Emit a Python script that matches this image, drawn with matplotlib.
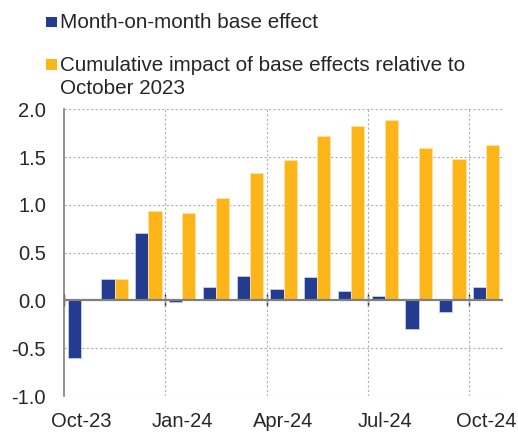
import matplotlib
matplotlib.use("Agg")
import matplotlib.pyplot as plt
from matplotlib.patches import Rectangle
import numpy as np

months = ["Oct-23", "Nov-23", "Dec-23", "Jan-24", "Feb-24", "Mar-24", "Apr-24",
          "May-24", "Jun-24", "Jul-24", "Aug-24", "Sep-24", "Oct-24"]
mom = [-0.60, 0.22, 0.71, -0.02, 0.14, 0.26, 0.12, 0.25, 0.10, 0.05, -0.30, -0.125, 0.14]
cumulative = [None, 0.22, 0.935, 0.92, 1.07, 1.33, 1.465, 1.72, 1.83, 1.885, 1.59, 1.475, 1.625]
label_months = ["Oct-23", "Jan-24", "Apr-24", "Jul-24", "Oct-24"]
yticks = [-1.0, -0.5, 0.0, 0.5, 1.0, 1.5, 2.0]
series_labels = ["Month-on-month base effect",
                 "Cumulative impact of base effects relative to\nOctober 2023"]

BLUE = "#233C8F"
ORANGE = "#FDB51A"
TXT = "#262626"
FS = 14.5
LFS = 14.9

plt.rcParams['font.family'] = ['Liberation Sans', 'DejaVu Sans']

W, H = 518, 432
fig = plt.figure(figsize=(W/100, H/100), dpi=100)
ax = fig.add_axes([64/W, 1-396/H, (503-64)/W, (396-109.3)/H])

x = np.arange(len(months))
w = 0.39
cum_vals = [np.nan if v is None else v for v in cumulative]
b1 = ax.bar(x - w/2, mom, width=w, color=BLUE, edgecolor="#c8cde3", linewidth=0.6, zorder=3)
b2 = ax.bar(x + w/2, cum_vals, width=w, color=ORANGE, edgecolor="#fde3a6", linewidth=0.6, zorder=3)

ax.set_xlim(-0.5, len(months) - 0.5)
ax.set_ylim(-1.0, 2.0)
ax.set_yticks(yticks)
ax.set_yticklabels([f"{t:.1f}" for t in yticks], fontsize=FS, color=TXT)

lab_pos = [months.index(m) for m in label_months]
ax.set_xticks(lab_pos)
ax.set_xticklabels(label_months, fontsize=FS, color=TXT)
ax.tick_params(axis='x', length=0, pad=11.5)
ax.tick_params(axis='y', length=0, pad=13)

# grid
for yv in yticks:
    if yv != 0.0:
        ax.axhline(yv, color="#b0b0b0", linestyle=(0, (2, 2)), linewidth=0.8, zorder=1)
for p in lab_pos[1:]:
    ax.axvline(p - 0.5, color="#b0b0b0", linestyle=(0, (2, 2)), linewidth=0.8, zorder=1)

for s in ["top", "right", "bottom"]:
    ax.spines[s].set_visible(False)
ax.spines["left"].set_color("#808080")
ax.spines["left"].set_linewidth(1.2)

# zero line
ax.axhline(0, color="#808080", linewidth=1.6, zorder=4)
# boundary ticks across zero line
sec = ax.secondary_xaxis(1/3)
sec.set_xticks([p - 0.5 for p in lab_pos])
sec.set_xticklabels([])
sec.tick_params(axis='x', direction='inout', length=9, width=1.0, color="#222222")
sec.spines["bottom"].set_visible(False)

# legend (manual, handle aligned with first line)
sq = 10.7
entries = [(BLUE, series_labels[0], 16.7, 28.3),
           (ORANGE, series_labels[1], 59.3, 71.0)]
line_gap = 23.0
for color, text, sq_top, base in entries:
    fig.patches.append(Rectangle((46/W, 1 - (sq_top + sq)/H), sq/W, sq/H,
                                 transform=fig.transFigure, facecolor=color,
                                 edgecolor="none"))
    for i, line in enumerate(text.split("\n")):
        fig.text(60.5/W, 1 - (base + i*line_gap)/H, line, fontsize=LFS, color=TXT,
                 ha="left", va="baseline")

fig.savefig("out.png", dpi=100)
